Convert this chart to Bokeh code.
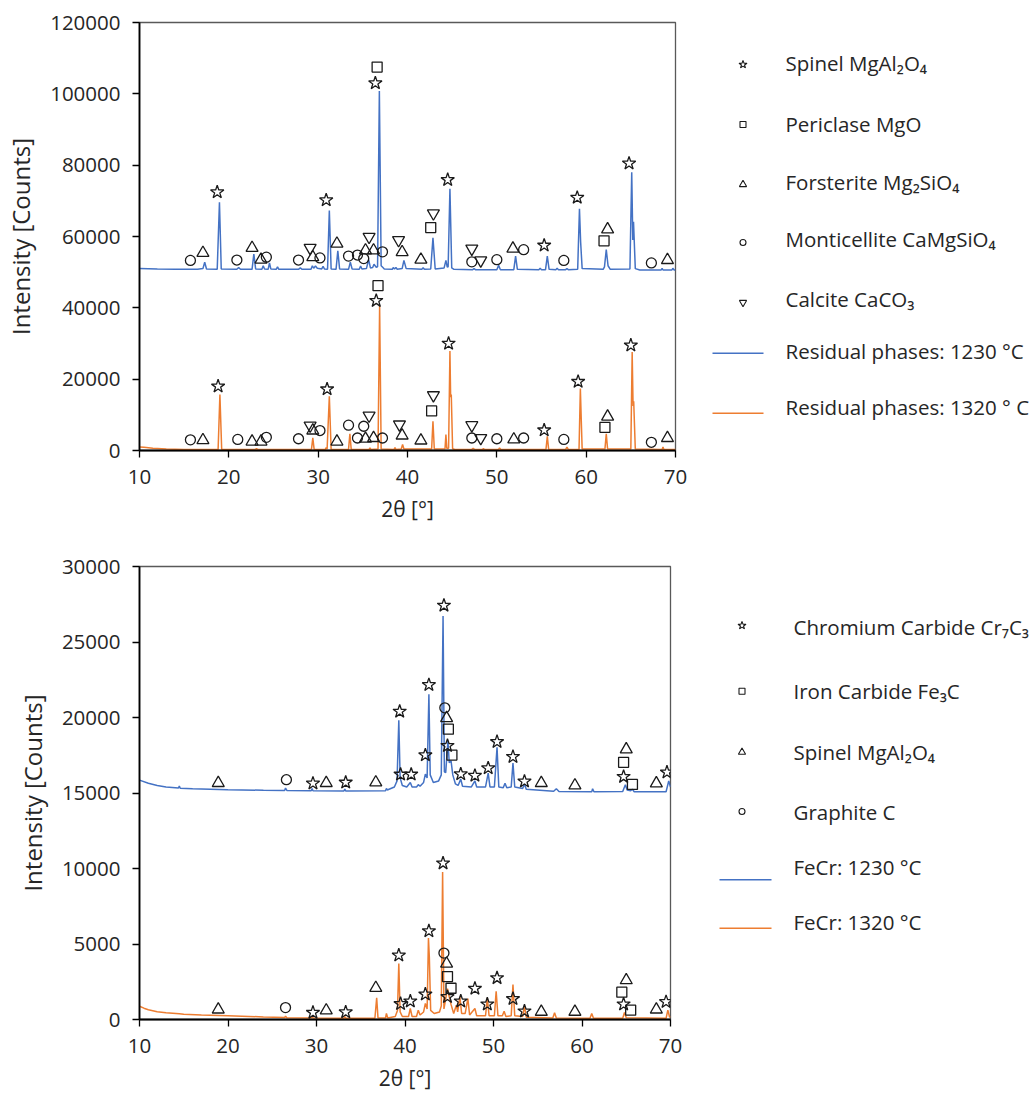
from bokeh.plotting import figure
from bokeh.layouts import row, column
from bokeh.models import Range1d, FixedTicker, NumeralTickFormatter
from bokeh.core.properties import value
from bokeh.embed import file_html
from bokeh.resources import INLINE

FONT = "Open Sans"
BLUE = "#4472C4"
ORANGE = "#ED7D31"
MARK = "#1a1a1a"
TXT = "#262626"

# ---------------- data: top panel (residual phases) ----------------
x_ticks = [10, 20, 30, 40, 50, 60, 70]
top_y_ticks = [0, 20000, 40000, 60000, 80000, 100000, 120000]
bot_y_ticks = [0, 5000, 10000, 15000, 20000, 25000, 30000]

res_1230 = [(10.0, 51000), (12.0, 50900), (14.0, 50850), (16.5, 50800), (17.1, 51000), (17.3, 52800), (17.5, 50900),
            (18.7, 50800), (18.95, 69600), (19.15, 50900), (20.9, 50800), (21.1, 51300), (21.3, 50800), (22.6, 50800),
            (22.8, 55100), (23.0, 50900), (23.7, 50800), (23.85, 51800), (24.0, 50900), (24.4, 50800), (24.55, 52600),
            (24.7, 50900), (25.3, 50800), (25.45, 51500), (25.6, 50800), (27.8, 50800), (28.0, 51200), (28.2, 50800),
            (29.2, 50800), (29.35, 51800), (29.5, 51100), (29.7, 51700), (29.9, 51100), (30.4, 50900), (30.55, 51600),
            (30.7, 50900), (31.05, 50800), (31.25, 67300), (31.45, 50900), (32.0, 50800), (32.2, 56000), (32.4, 50900),
            (33.4, 50800), (33.6, 52800), (33.8, 50900), (34.6, 50800), (34.75, 51700), (34.9, 50900), (35.4, 51000),
            (35.65, 53500), (35.85, 51200), (36.1, 51300), (36.25, 52200), (36.5, 51400), (36.65, 51500), (36.85, 100800),
            (37.05, 51800), (37.25, 51300), (37.4, 50900), (38.3, 50800), (38.4, 51300), (38.55, 50900), (38.7, 51300),
            (38.85, 50800), (39.4, 51000), (39.6, 53300), (39.85, 51000), (41.6, 50800), (41.75, 51200), (41.9, 50800),
            (42.6, 50900), (42.85, 59600), (43.1, 50900), (44.1, 51200), (44.3, 53300), (44.45, 51400), (44.55, 51500),
            (44.75, 73400), (44.95, 51200), (45.2, 50800), (47.3, 50700), (47.45, 51000), (47.6, 50700), (50.0, 50700),
            (50.2, 51900), (50.4, 50700), (51.9, 50700), (52.1, 54500), (52.3, 50800), (54.7, 50700), (54.85, 51100),
            (55.0, 50700), (55.45, 50700), (55.65, 54500), (55.85, 50800), (56.6, 50700), (56.75, 51100), (56.9, 50700),
            (57.7, 50700), (57.85, 51000), (58.0, 50700), (59.05, 50800), (59.25, 67800), (59.38, 58500), (59.55, 51000),
            (61.9, 50800), (62.05, 51500), (62.25, 56300), (62.45, 51800), (62.7, 50800), (64.9, 50900), (65.1, 78000),
            (65.22, 59000), (65.3, 64100), (65.5, 51000), (66.0, 50600), (68.4, 50600), (68.5, 51100), (68.6, 50600),
            (69.6, 50600), (69.7, 51100), (69.85, 50600), (70.0, 50600)]

res_1320 = [(10.0, 1000), (10.5, 880), (11.5, 620), (13.0, 420), (15.0, 300), (18.8, 250), (19.0, 15700), (19.2, 300),
            (22.9, 250), (23.1, 500), (23.3, 250), (29.25, 300), (29.4, 3550), (29.55, 300), (30.8, 300), (30.9, 800),
            (31.0, 350), (31.25, 15200), (31.45, 300), (33.4, 300), (33.55, 4700), (33.7, 300), (35.7, 300), (35.8, 700),
            (35.9, 300), (36.7, 400), (36.88, 40500), (37.05, 400), (38.5, 300), (38.6, 800), (38.7, 300), (39.3, 400),
            (39.45, 1700), (39.6, 400), (42.7, 400), (42.85, 8200), (43.0, 400), (44.2, 500), (44.3, 4500), (44.4, 600),
            (44.6, 600), (44.75, 27900), (44.83, 15000), (44.9, 15700), (45.05, 500), (45.3, 300), (47.2, 300),
            (47.35, 600), (47.5, 300), (48.4, 300), (48.5, 600), (48.6, 300), (50.2, 300), (50.3, 700), (50.45, 300),
            (55.5, 300), (55.65, 4000), (55.8, 300), (57.7, 300), (57.85, 950), (58.0, 300), (59.2, 300), (59.35, 17400),
            (59.45, 8700), (59.55, 400), (62.1, 400), (62.25, 4700), (62.4, 400), (65.0, 400), (65.15, 27600),
            (65.25, 12500), (65.32, 13800), (65.5, 400), (68.5, 300), (68.6, 1000), (68.7, 300), (70.0, 300)]

# phase markers, top panel (x = 2theta, y = marker height)
spinel_1230_x = [18.7, 30.9, 36.4, 44.5, 55.3, 59.0, 64.8]
spinel_1230_y = [72450, 70200, 103000, 75900, 57500, 70900, 80500]
periclase_1230_x = [36.6, 42.6, 62.0]
periclase_1230_y = [107500, 62500, 58800]
forsterite_1230_x = [17.1, 22.6, 23.6, 29.4, 32.1, 35.3, 36.2, 39.4, 41.5, 51.8, 62.4, 69.1]
forsterite_1230_y = [55400, 56800, 53500, 54200, 58000, 56100, 56100, 55600, 53500, 56600, 62000, 53400]
monticellite_1230_x = [15.7, 20.9, 24.2, 27.8, 30.2, 33.4, 34.4, 35.1, 37.2, 47.2, 50.0, 53.0, 57.5, 67.3]
monticellite_1230_y = [53300, 53400, 54200, 53400, 54000, 54500, 54800, 53800, 55700, 52900, 53500, 56300, 53300, 52600]
calcite_1230_x = [29.1, 35.7, 39.0, 42.9, 47.2, 48.2]
calcite_1230_y = [56800, 59900, 59000, 66500, 56600, 53300]

spinel_1320_x = [18.8, 31.0, 36.5, 44.6, 55.3, 59.1, 65.0]
spinel_1320_y = [18000, 17200, 42000, 30000, 5700, 19300, 29500]
periclase_1320_x = [36.7, 42.7, 62.1]
periclase_1320_y = [46200, 11100, 6500]
forsterite_1320_x = [17.1, 22.6, 23.6, 29.4, 32.1, 35.3, 36.2, 39.4, 41.5, 51.9, 62.4, 69.1]
forsterite_1320_y = [2900, 2500, 2500, 5600, 2500, 3300, 3500, 4200, 2800, 3100, 9500, 3500]
monticellite_1320_x = [15.7, 21.0, 24.2, 27.8, 30.2, 33.4, 34.4, 35.1, 37.2, 47.2, 50.0, 53.0, 57.5, 67.3]
monticellite_1320_y = [3000, 3100, 3700, 3300, 5600, 7100, 3500, 6800, 3500, 3500, 3300, 3500, 3100, 2300]
calcite_1320_x = [29.1, 35.7, 39.1, 42.9, 47.2, 48.2]
calcite_1320_y = [7000, 9800, 7300, 15500, 7100, 3500]

# ---------------- data: bottom panel (FeCr) ----------------
fecr_1230 = [(10.0, 15850), (11.0, 15650), (12.0, 15500), (13.0, 15400), (14.4, 15330), (14.5, 15460), (14.6, 15320),
             (16.0, 15280), (20.0, 15220), (24.0, 15180), (26.4, 15170), (26.5, 15330), (26.65, 15170), (29.4, 15150),
             (29.5, 15300), (29.6, 15150), (33.1, 15130), (33.2, 15270), (33.3, 15130), (37.8, 15150), (37.9, 15300),
             (38.0, 15200), (38.8, 15400), (39.1, 15800), (39.3, 19820), (39.45, 16000), (39.7, 15500), (40.2, 15400),
             (40.6, 15700), (40.8, 15400), (41.3, 15400), (41.5, 15550), (41.7, 15450), (42.1, 15700), (42.3, 16250),
             (42.5, 16000), (42.7, 21540), (42.85, 16200), (43.2, 15700), (43.8, 15800), (44.1, 16200), (44.3, 26720),
             (44.45, 16400), (44.6, 16350), (44.85, 18460), (45.0, 17000), (45.2, 17140), (45.4, 16200), (45.7, 15600),
             (46.0, 15500), (46.3, 15920), (46.5, 15450), (47.5, 15400), (47.9, 15800), (48.1, 15400), (49.1, 15400),
             (49.4, 16320), (49.6, 15400), (50.1, 15400), (50.4, 18020), (50.6, 15400), (51.1, 15350), (51.3, 15650),
             (51.5, 15350), (52.0, 15400), (52.2, 16980), (52.4, 15400), (53.3, 15300), (53.5, 15600), (53.7, 15250),
             (56.8, 15120), (57.1, 15280), (57.4, 15100), (61.1, 15080), (61.2, 15280), (61.35, 15080), (64.6, 15100),
             (64.9, 15550), (65.1, 15200), (65.5, 15150), (65.7, 15250), (65.9, 15080), (69.5, 15080), (69.8, 15800),
             (70.0, 15400)]

fecr_1320 = [(10.0, 880), (10.5, 750), (11.0, 650), (12.0, 520), (13.0, 450), (14.5, 380), (15.0, 340), (17.0, 300),
             (20.0, 250), (24.0, 170), (26.4, 130), (26.5, 220), (26.65, 120), (29.4, 100), (29.5, 200), (29.6, 100),
             (33.1, 90), (33.2, 180), (33.3, 90), (36.6, 90), (36.8, 1430), (36.95, 100), (37.8, 100), (37.9, 400),
             (38.05, 100), (38.9, 200), (39.15, 600), (39.3, 3700), (39.45, 500), (39.7, 200), (40.4, 200), (40.6, 730),
             (40.8, 200), (41.3, 200), (41.5, 620), (41.7, 300), (42.1, 500), (42.3, 1060), (42.5, 700), (42.65, 5400),
             (42.75, 4140), (42.9, 600), (43.3, 400), (43.9, 500), (44.1, 900), (44.25, 9760), (44.4, 700), (44.55, 1200),
             (44.8, 2050), (45.0, 1500), (45.2, 1000), (45.5, 400), (45.8, 950), (45.95, 500), (46.2, 1500), (46.4, 400),
             (46.8, 400), (47.1, 1390), (47.3, 300), (47.9, 730), (48.1, 250), (49.1, 250), (49.3, 1430), (49.5, 250),
             (50.1, 250), (50.3, 1870), (50.5, 250), (51.0, 250), (51.2, 550), (51.4, 200), (52.0, 250), (52.2, 2310),
             (52.4, 250), (53.3, 200), (53.5, 900), (53.7, 150), (56.7, 100), (56.9, 440), (57.1, 100), (60.9, 80),
             (61.1, 400), (61.3, 80), (64.6, 80), (64.8, 460), (65.0, 120), (69.5, 80), (69.7, 620), (69.9, 150),
             (70.0, 200)]

cr7c3_1230_x = [29.6, 33.3, 39.4, 39.5, 40.7, 42.3, 42.7, 44.4, 44.8, 46.3, 47.9, 49.4, 50.4, 52.2, 53.5, 64.7, 69.6]
cr7c3_1230_y = [15640, 15700, 20400, 16230, 16230, 17510, 22160, 27420, 18130, 16250, 16150, 16650, 18390, 17400, 15770, 16080, 16370]
fe3c_1230_x = [44.9, 45.3, 64.7, 65.7]
fe3c_1230_y = [19230, 17510, 17030, 15570]
spinel_b_1230_x = [18.9, 31.1, 36.7, 44.7, 55.4, 59.2, 65.0, 68.4]
spinel_b_1230_y = [15660, 15660, 15700, 19960, 15660, 15500, 17890, 15640]
graphite_1230_x = [26.6, 44.5]
graphite_1230_y = [15880, 20640]

cr7c3_1320_x = [29.6, 33.3, 39.3, 39.5, 40.6, 42.3, 42.7, 44.3, 44.8, 46.3, 47.9, 49.3, 50.4, 52.2, 53.5, 64.7, 69.5]
cr7c3_1320_y = [460, 490, 4250, 1040, 1210, 1670, 5860, 10350, 1500, 1210, 2050, 1010, 2750, 1370, 550, 1010, 1170]
fe3c_1320_x = [44.8, 45.2, 64.5, 65.5]
fe3c_1320_y = [2840, 2070, 1810, 620]
spinel_b_1320_x = [18.9, 31.1, 36.7, 44.7, 55.4, 59.2, 65.0, 68.4]
spinel_b_1320_y = [660, 600, 2090, 3700, 510, 510, 2600, 660]
graphite_1320_x = [26.5, 44.4]
graphite_1320_y = [790, 4400]

top_legend = ["Spinel MgAl\u2082O\u2084", "Periclase MgO", "Forsterite Mg\u2082SiO\u2084",
              "Monticellite CaMgSiO\u2084", "Calcite CaCO\u2083",
              "Residual phases: 1230 \u00b0C", "Residual phases: 1320 \u00b0 C"]
bot_legend = ["Chromium Carbide Cr\u2087C\u2083", "Iron Carbide Fe\u2083C", "Spinel MgAl\u2082O\u2084",
              "Graphite C", "FeCr: 1230 \u00b0C", "FeCr: 1320 \u00b0C"]

MARKER_SIZE = {"star": 14, "square": 10, "triangle": 12, "circle": 10, "inverted_triangle": 12}

# layout (page pixels)
PLOT_W = 700
LEG_W = 335
TOP_H = 548
BOT_H = 555
TOP_FRAME = (22, 450)      # frame top / bottom of upper panel
BOT_FRAME = (566, 1019)    # frame top / bottom of lower panel (page y)


def panel(height, ymax, yticks, border_top, border_bottom, border_right):
    p = figure(width=PLOT_W, height=height, x_range=Range1d(10, 70), y_range=Range1d(0, ymax),
               output_backend="svg", toolbar_location=None,
               min_border_left=139, min_border_right=border_right,
               min_border_top=border_top, min_border_bottom=border_bottom)
    p.xgrid.visible = False
    p.ygrid.visible = False
    p.outline_line_color = "#595959"
    p.outline_line_width = 1.3
    p.background_fill_color = "white"
    p.border_fill_color = "white"
    p.xaxis.ticker = FixedTicker(ticks=x_ticks)
    p.yaxis.ticker = FixedTicker(ticks=yticks)
    p.yaxis.formatter = NumeralTickFormatter(format="0")
    for ax in (p.xaxis[0], p.yaxis[0]):
        ax.axis_line_color = "black"
        ax.axis_line_width = 1.8
        ax.major_tick_line_color = "black"
        ax.major_tick_line_width = 1.3
        ax.major_tick_out = 7
        ax.major_tick_in = 0
        ax.minor_tick_line_color = None
        ax.major_label_text_font = FONT
        ax.major_label_text_font_size = "20.5px"
        ax.major_label_text_color = TXT
        ax.major_label_standoff = 12
        ax.axis_label_text_font = FONT
        ax.axis_label_text_font_style = "normal"
        ax.axis_label_text_color = TXT
    p.xaxis.axis_label = "2\u03b8 [\u00b0]"
    p.xaxis.axis_label_text_font_size = "21px"
    p.xaxis.axis_label_standoff = 8
    p.yaxis.axis_label = "Intensity [Counts]"
    p.yaxis.axis_label_text_font_size = "24px"
    p.yaxis.axis_label_standoff = 10
    return p


def add_markers(p, kind, xs, ys):
    p.scatter(xs, ys, marker=kind, size=MARKER_SIZE[kind], line_color=MARK, line_width=1.3,
              fill_color=None)


def legend_fig(height, frame):
    # the legend figure's frame is aligned with the panel frame in the row,
    # so its ranges are expressed in page pixels
    lf = figure(width=LEG_W, height=height, x_range=Range1d(PLOT_W, PLOT_W + LEG_W),
                y_range=Range1d(frame[1], frame[0]),
                output_backend="svg", toolbar_location=None, min_border=0,
                x_axis_location=None, y_axis_location=None)
    lf.xgrid.visible = False
    lf.ygrid.visible = False
    lf.outline_line_color = None
    lf.background_fill_color = "white"
    lf.border_fill_color = "white"
    return lf


def draw_legend(lf, kinds, marker_x, marker_rows, line_x, line_rows, text_x, text_rows, labels):
    for kind, yy in zip(kinds, marker_rows):
        lf.scatter([marker_x], [yy], marker=kind, size=MARKER_SIZE[kind] * 0.6, line_color=MARK,
                   line_width=1.1, fill_color=None)
    for col, yy in zip([BLUE, ORANGE], line_rows):
        lf.line(line_x, [yy, yy], line_color=col, line_width=1.5)
    lf.text([text_x] * len(labels), text_rows, text=labels, text_font=value(FONT),
            text_font_size="20.5px", text_baseline="middle", text_color=TXT)


# ---------------- top panel ----------------
p1 = panel(TOP_H, 120000, top_y_ticks, TOP_FRAME[0], TOP_H - TOP_FRAME[1], PLOT_W - 675)
p1.line([a for a, b in res_1230], [b for a, b in res_1230], line_color=BLUE, line_width=1.5)
p1.line([a for a, b in res_1320], [b for a, b in res_1320], line_color=ORANGE, line_width=1.5)
add_markers(p1, "star", spinel_1230_x, spinel_1230_y)
add_markers(p1, "square", periclase_1230_x, periclase_1230_y)
add_markers(p1, "triangle", forsterite_1230_x, forsterite_1230_y)
add_markers(p1, "circle", monticellite_1230_x, monticellite_1230_y)
add_markers(p1, "inverted_triangle", calcite_1230_x, calcite_1230_y)
add_markers(p1, "star", spinel_1320_x, spinel_1320_y)
add_markers(p1, "square", periclase_1320_x, periclase_1320_y)
add_markers(p1, "triangle", forsterite_1320_x, forsterite_1320_y)
add_markers(p1, "circle", monticellite_1320_x, monticellite_1320_y)
add_markers(p1, "inverted_triangle", calcite_1320_x, calcite_1320_y)

l1 = legend_fig(TOP_H, TOP_FRAME)
draw_legend(l1, ["star", "square", "triangle", "circle", "inverted_triangle"], 742.5,
            [64, 124, 184, 242, 302], [712, 763], [352.7, 412.7], 785,
            [62, 123, 181.7, 238, 298, 350, 406.7], top_legend)

# ---------------- bottom panel ----------------
p2 = panel(BOT_H, 30000, bot_y_ticks, BOT_FRAME[0] - TOP_H, TOP_H + BOT_H - BOT_FRAME[1], PLOT_W - 670)
p2.line([a for a, b in fecr_1230], [b for a, b in fecr_1230], line_color=BLUE, line_width=1.5)
p2.line([a for a, b in fecr_1320], [b for a, b in fecr_1320], line_color=ORANGE, line_width=1.5)
add_markers(p2, "star", cr7c3_1230_x, cr7c3_1230_y)
add_markers(p2, "square", fe3c_1230_x, fe3c_1230_y)
add_markers(p2, "triangle", spinel_b_1230_x, spinel_b_1230_y)
add_markers(p2, "circle", graphite_1230_x, graphite_1230_y)
add_markers(p2, "star", cr7c3_1320_x, cr7c3_1320_y)
add_markers(p2, "square", fe3c_1320_x, fe3c_1320_y)
add_markers(p2, "triangle", spinel_b_1320_x, spinel_b_1320_y)
add_markers(p2, "circle", graphite_1320_x, graphite_1320_y)

l2 = legend_fig(BOT_H, BOT_FRAME)
draw_legend(l2, ["star", "square", "triangle", "circle"], 741.5,
            [625, 690.7, 751.7, 811], [719, 771], [879.3, 927.7], 793,
            [626.7, 690, 751.7, 811, 866.7, 921.7], bot_legend)

layout = column(row(p1, l1), row(p2, l2))
open("out.html", "w").write(file_html(layout, INLINE))
